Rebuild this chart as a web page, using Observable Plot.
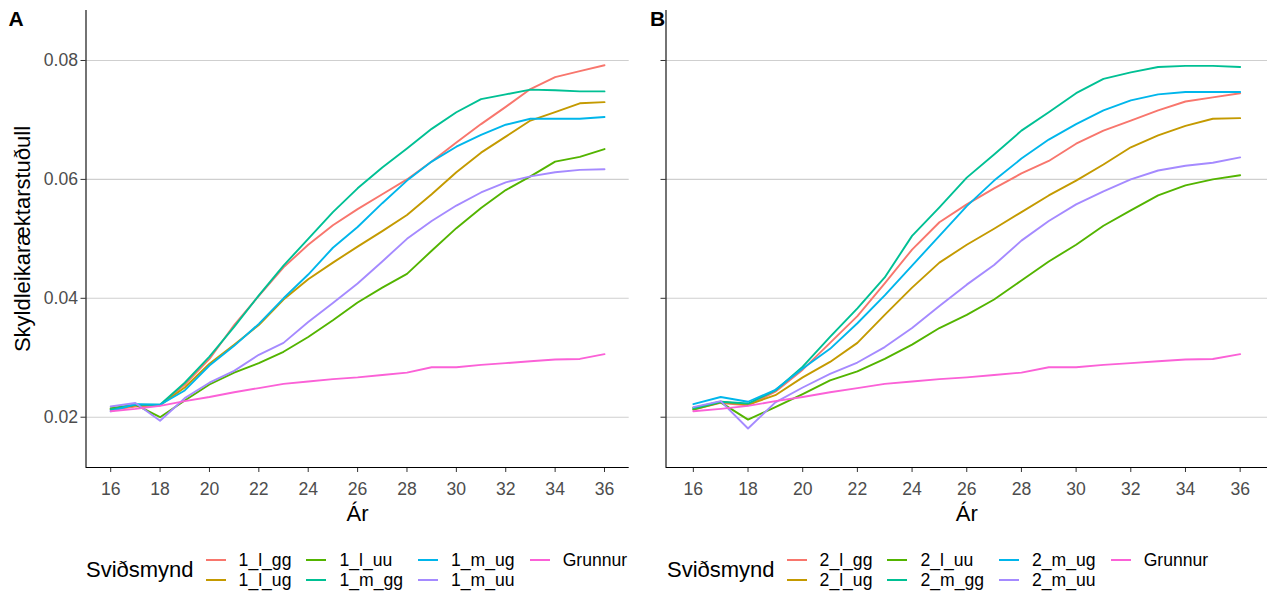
<!DOCTYPE html>
<html>
<head>
<meta charset="utf-8">
<script src="https://cdn.jsdelivr.net/npm/d3@7"></script>
<script src="https://cdn.jsdelivr.net/npm/@observablehq/plot@0.6"></script>
<style>
  body { margin: 0; background: #fff; font-family: "Liberation Sans", Arial, sans-serif; }
  #wrap { position: relative; width: 1274px; height: 599px; overflow: hidden; background: #fff; }
  .panel { position: absolute; top: 0; width: 637px; height: 530px; }
  .legend { position: absolute; top: 550px; display: flex; align-items: center; }
  .ltitle { font-size: 22px; color: #000; margin-right: 12px; }
  .lgrid { display: grid; grid-auto-flow: column; grid-template-rows: 20px 20px; column-gap: 15px; }
  .litem { display: flex; align-items: center; font-size: 17.6px; color: #000; white-space: nowrap; }
  .lkey { display: inline-block; width: 20px; height: 2px; margin-right: 13px; }
</style>
</head>
<body>
<div id="wrap"></div>
<script>
// ---------- data ----------
const years = [16, 17, 18, 19, 20, 21, 22, 23, 24, 25, 26, 27, 28, 29, 30, 31, 32, 33, 34, 35, 36];

const namesA = ["1_l_gg", "1_l_ug", "1_l_uu", "1_m_gg", "1_m_ug", "1_m_uu", "Grunnur"];
const namesB = ["2_l_gg", "2_l_ug", "2_l_uu", "2_m_gg", "2_m_ug", "2_m_uu", "Grunnur"];
const colors = ["#F8766D", "#C49A00", "#53B400", "#00C094", "#00B6EB", "#A58AFF", "#FB61D7"];

const grunnur = [0.0210, 0.0214, 0.0219, 0.0227, 0.0234, 0.0242, 0.0249, 0.0256, 0.0260, 0.0264, 0.0267, 0.0271, 0.0275, 0.0284, 0.0284, 0.0288, 0.0291, 0.0294, 0.0297, 0.0298, 0.0306];

// Panel A
const s1_l_gg = [0.0212, 0.0218, 0.0220, 0.0255, 0.0298, 0.0355, 0.0404, 0.0452, 0.0490, 0.0523, 0.0550, 0.0575, 0.0600, 0.0630, 0.0662, 0.0693, 0.0722, 0.0752, 0.0772, 0.0782, 0.0792];
const s1_l_ug = [0.0214, 0.0220, 0.0220, 0.0250, 0.0290, 0.0322, 0.0355, 0.0398, 0.0432, 0.0460, 0.0487, 0.0513, 0.0540, 0.0575, 0.0612, 0.0645, 0.0672, 0.0699, 0.0713, 0.0728, 0.0730];
const s1_l_uu = [0.0215, 0.0221, 0.0200, 0.0228, 0.0255, 0.0275, 0.0291, 0.0310, 0.0335, 0.0363, 0.0393, 0.0418, 0.0441, 0.0480, 0.0518, 0.0552, 0.0582, 0.0605, 0.0630, 0.0638, 0.0651];
const s1_m_gg = [0.0213, 0.0221, 0.0221, 0.0258, 0.0302, 0.0352, 0.0405, 0.0455, 0.0500, 0.0545, 0.0585, 0.0620, 0.0652, 0.0685, 0.0713, 0.0735, 0.0743, 0.0751, 0.0750, 0.0748, 0.0748];
const s1_m_ug = [0.0210, 0.0222, 0.0221, 0.0245, 0.0287, 0.0320, 0.0357, 0.0400, 0.0440, 0.0485, 0.0520, 0.0560, 0.0598, 0.0630, 0.0655, 0.0675, 0.0692, 0.0702, 0.0702, 0.0702, 0.0705];
const s1_m_uu = [0.0218, 0.0224, 0.0194, 0.0232, 0.0258, 0.0278, 0.0305, 0.0325, 0.0360, 0.0392, 0.0425, 0.0462, 0.0500, 0.0530, 0.0556, 0.0578, 0.0595, 0.0605, 0.0612, 0.0616, 0.0617];

// Panel B
const s2_l_gg = [0.0213, 0.0224, 0.0220, 0.0243, 0.0280, 0.0325, 0.0370, 0.0425, 0.0482, 0.0528, 0.0558, 0.0585, 0.0610, 0.0631, 0.0660, 0.0682, 0.0699, 0.0716, 0.0731, 0.0738, 0.0745];
const s2_l_ug = [0.0216, 0.0226, 0.0221, 0.0237, 0.0267, 0.0293, 0.0325, 0.0372, 0.0418, 0.0460, 0.0490, 0.0517, 0.0545, 0.0573, 0.0598, 0.0625, 0.0654, 0.0674, 0.0690, 0.0702, 0.0703];
const s2_l_uu = [0.0213, 0.0225, 0.0196, 0.0217, 0.0239, 0.0262, 0.0277, 0.0298, 0.0322, 0.0350, 0.0372, 0.0398, 0.0430, 0.0462, 0.0490, 0.0522, 0.0548, 0.0573, 0.0590, 0.0600, 0.0607];
const s2_m_gg = [0.0215, 0.0226, 0.0223, 0.0245, 0.0285, 0.0335, 0.0383, 0.0435, 0.0505, 0.0553, 0.0603, 0.0642, 0.0682, 0.0713, 0.0745, 0.0769, 0.0780, 0.0789, 0.0791, 0.0791, 0.0789];
const s2_m_ug = [0.0222, 0.0234, 0.0226, 0.0246, 0.0282, 0.0315, 0.0358, 0.0405, 0.0455, 0.0505, 0.0555, 0.0598, 0.0635, 0.0667, 0.0693, 0.0716, 0.0733, 0.0743, 0.0747, 0.0747, 0.0747];
const s2_m_uu = [0.0217, 0.0227, 0.0181, 0.0225, 0.0250, 0.0273, 0.0292, 0.0318, 0.0350, 0.0387, 0.0423, 0.0456, 0.0497, 0.0530, 0.0558, 0.0580, 0.0600, 0.0615, 0.0623, 0.0628, 0.0637];

const xTicks = [16, 18, 20, 22, 24, 26, 28, 30, 32, 34, 36];
const yTicks = [0.02, 0.04, 0.06, 0.08];
const xTitle = "Ár";
const yTitle = "Skyldleikaræktarstuðull";
const legendTitle = "Sviðsmynd";

const seriesA = [s1_l_gg, s1_l_ug, s1_l_uu, s1_m_gg, s1_m_ug, s1_m_uu, grunnur];
const seriesB = [s2_l_gg, s2_l_ug, s2_l_uu, s2_m_gg, s2_m_ug, s2_m_uu, grunnur];

// ---------- drawing ----------
const FONT = "Liberation Sans, Arial, sans-serif";

function makePanel(series, names, cfg) {
  const rows = [];
  names.forEach((n, i) => series[i].forEach((v, j) => rows.push({ ar: years[j], v, s: n })));
  const marks = [
    Plot.gridY(yTicks, { stroke: "#cfcfcf", strokeOpacity: 1, strokeWidth: 1.1 }),
    Plot.axisY(yTicks, {
      tickSize: 5, tickPadding: 3, stroke: "#333333", fill: "#4d4d4d",
      fontSize: 17.6, label: null,
      tickFormat: cfg.yLabels ? d3.format(".2f") : () => ""
    }),
    Plot.axisX(xTicks, {
      tickSize: 5, tickPadding: 10, stroke: "#333333", fill: "#4d4d4d",
      fontSize: 17.6, label: null, tickFormat: d => String(d)
    }),
    Plot.ruleX([15], { stroke: "#000", strokeWidth: 1.1 }),
    Plot.ruleY([0.01154], { stroke: "#000", strokeWidth: 1.1 }),
    Plot.lineY(rows, { x: "ar", y: "v", z: "s", stroke: "s", strokeWidth: 1.9 }),
    Plot.text([xTitle], { frameAnchor: "bottom", text: d => d, dy: 46, fontSize: 22, fill: "#000", lineAnchor: "middle", textAnchor: "middle" }),
    Plot.text([cfg.letter], { frameAnchor: "top-left", text: d => d, dx: cfg.letterDx, dy: 9, fontSize: 21, fontWeight: "bold", fill: "#000", lineAnchor: "middle", textAnchor: "start" })
  ];
  if (cfg.yLabels) {
    marks.push(Plot.text([yTitle], { frameAnchor: "left", text: d => d, dx: -63, rotate: -90, fontSize: 22, fill: "#000", textAnchor: "middle", lineAnchor: "middle" }));
  }
  return Plot.plot({
    width: 637, height: 530,
    marginLeft: cfg.marginLeft, marginRight: cfg.marginRight, marginTop: 10, marginBottom: 63,
    style: { fontFamily: FONT, background: "transparent", overflow: "visible" },
    x: { domain: [15, 37], axis: null },
    y: { domain: [0.01154, 0.08841], axis: null },
    color: { domain: names, range: colors },
    marks
  });
}

function makeLegend(names, left) {
  const lg = document.createElement("div");
  lg.className = "legend";
  lg.style.left = left + "px";
  const t = document.createElement("div");
  t.className = "ltitle";
  t.textContent = legendTitle;
  lg.appendChild(t);
  const g = document.createElement("div");
  g.className = "lgrid";
  names.forEach((n, i) => {
    const it = document.createElement("div");
    it.className = "litem";
    const k = document.createElement("span");
    k.className = "lkey";
    k.style.background = colors[i];
    it.appendChild(k);
    const s = document.createElement("span");
    s.textContent = n;
    it.appendChild(s);
    g.appendChild(it);
  });
  lg.appendChild(g);
  return lg;
}

const wrap = document.getElementById("wrap");

const pA = makePanel(seriesA, namesA, { marginLeft: 85.5, marginRight: 8.3, yLabels: true, letter: "A", letterDx: -77.5 });
const dA = document.createElement("div"); dA.className = "panel"; dA.style.left = "0px"; dA.appendChild(pA); wrap.appendChild(dA);

const pB = makePanel(seriesB, namesB, { marginLeft: 28.5, marginRight: 7, yLabels: false, letter: "B", letterDx: -16 });
const dB = document.createElement("div"); dB.className = "panel"; dB.style.left = "637px"; dB.appendChild(pB); wrap.appendChild(dB);

wrap.appendChild(makeLegend(namesA, 86));
wrap.appendChild(makeLegend(namesB, 667));
</script>
</body>
</html>
